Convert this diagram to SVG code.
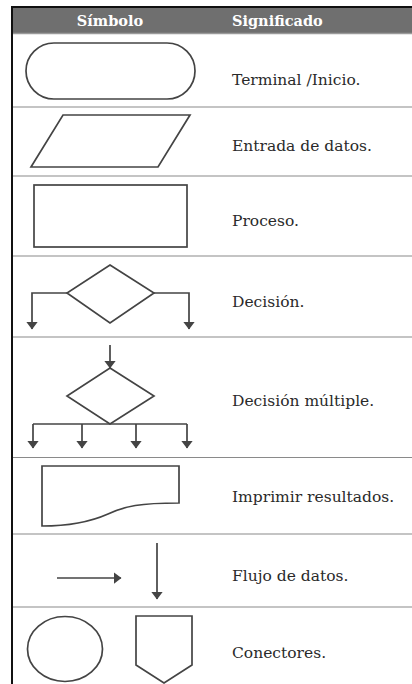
<svg xmlns="http://www.w3.org/2000/svg" width="412" height="684" viewBox="0 0 412 684">
<style>
.sh{fill:none;stroke:#444;stroke-width:1.7}
.ln{fill:none;stroke:#444;stroke-width:1.7}
.sep{stroke:#8a8a8a;stroke-width:1.2}
.hd{font-family:"DejaVu Serif","Liberation Serif",serif;font-weight:bold;font-size:14.5px;fill:#fff}
.tx{font-family:"DejaVu Serif","Liberation Serif",serif;font-size:15.5px;fill:#2a2a2a}
</style>
<defs>
<marker id="ah" viewBox="0 0 8 12" refX="7.5" refY="6" markerWidth="8" markerHeight="12" markerUnits="userSpaceOnUse" orient="auto">
<path d="M0,0 L8,6 L0,12 Z" fill="#444"/>
</marker>
</defs>
<rect width="412" height="684" fill="#fff"/>
<g id="table">
<rect x="12" y="8" width="400" height="25" fill="#6f6f6f"/>
<line x1="12" y1="33.5" x2="412" y2="33.5" stroke="#9a9a9a" stroke-width="1.5"/>
<line x1="11" y1="7" x2="412" y2="7" stroke="#111" stroke-width="2"/>
<line x1="12" y1="7" x2="12" y2="684" stroke="#111" stroke-width="2"/>
<line class="sep" x1="13" y1="107" x2="412" y2="107"/>
<line class="sep" x1="13" y1="176" x2="412" y2="176"/>
<line class="sep" x1="13" y1="256" x2="412" y2="256"/>
<line class="sep" x1="13" y1="337" x2="412" y2="337"/>
<line class="sep" x1="13" y1="457.5" x2="412" y2="457.5"/>
<line class="sep" x1="13" y1="534" x2="412" y2="534"/>
<line class="sep" x1="13" y1="607" x2="412" y2="607"/>
<text class="hd" x="110" y="26" text-anchor="middle">Símbolo</text>
<text class="hd" x="232" y="26">Significado</text>
</g>
<g id="terminal">
<rect class="sh" x="26" y="43" width="169" height="56" rx="28" ry="28"/>
<text class="tx" x="232" y="85">Terminal /Inicio.</text>
</g>
<g id="entrada">
<polygon class="sh" points="63,115 190,115 158,167 31,167"/>
<text class="tx" x="232" y="151">Entrada de datos.</text>
</g>
<g id="proceso">
<rect class="sh" x="34" y="185" width="153" height="62"/>
<text class="tx" x="232" y="226">Proceso.</text>
</g>
<g id="decision">
<polygon class="sh" points="110,265 154,293 110,323 67,293"/>
<text class="tx" x="232" y="307">Decisión.</text>
</g>
<g id="decision-multiple">
<polygon class="sh" points="110,368 154,396 110,424 67,396"/>
<text class="tx" x="232" y="406">Decisión múltiple.</text>
</g>
<g id="imprimir">
<path class="sh" d="M42,466 H179 V503 C140,503 125,506 108,514 C90,522 70,526 42,526 Z"/>
<text class="tx" x="232" y="502">Imprimir resultados.</text>
</g>
<g id="flujo">
<text class="tx" x="232" y="581">Flujo de datos.</text>
</g>
<g id="conectores">
<ellipse class="sh" cx="65" cy="649" rx="37.5" ry="32.5"/>
<polygon class="sh" points="136,616 192,616 192,665 164,683 136,665"/>
<text class="tx" x="232" y="658">Conectores.</text>
</g>
<g id="connectors">
<polyline class="ln" points="67,293 32,293 32,329" marker-end="url(#ah)"/>
<polyline class="ln" points="154,293 189,293 189,329" marker-end="url(#ah)"/>
<line class="ln" x1="110" y1="345" x2="110" y2="368" marker-end="url(#ah)"/>
<line class="ln" x1="33" y1="424" x2="187" y2="424"/>
<line class="ln" x1="33" y1="424" x2="33" y2="448" marker-end="url(#ah)"/>
<line class="ln" x1="82" y1="424" x2="82" y2="448" marker-end="url(#ah)"/>
<line class="ln" x1="136" y1="424" x2="136" y2="448" marker-end="url(#ah)"/>
<line class="ln" x1="187" y1="424" x2="187" y2="448" marker-end="url(#ah)"/>
<line class="ln" x1="57" y1="578" x2="121" y2="578" marker-end="url(#ah)"/>
<line class="ln" x1="157" y1="543" x2="157" y2="599" marker-end="url(#ah)"/>
</g>
</svg>
